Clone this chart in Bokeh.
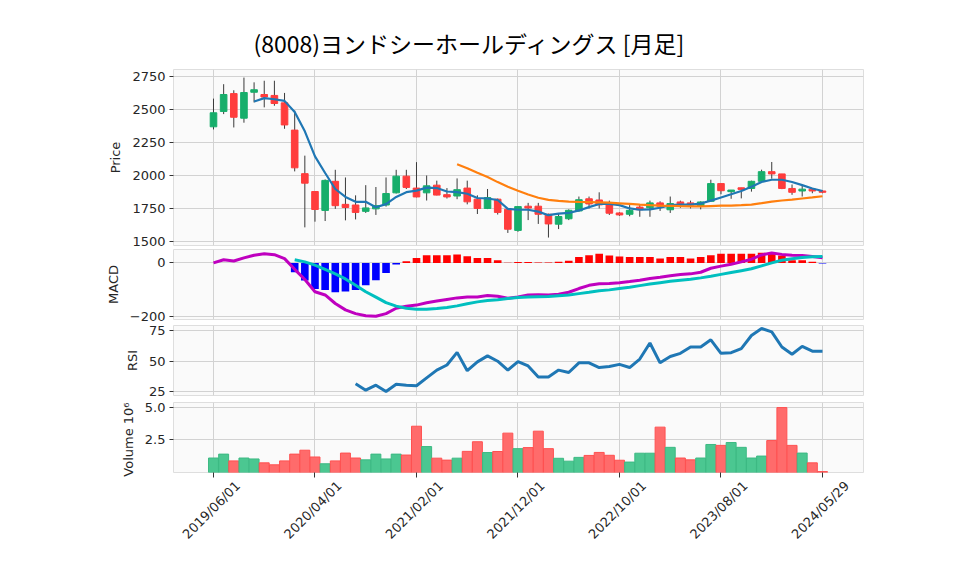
import math
from bokeh.plotting import figure
from bokeh.layouts import column
from bokeh.models import Range1d, FixedTicker, LinearAxis, ColumnDataSource, NumeralTickFormatter
from bokeh.embed import file_html
from bokeh.resources import INLINE

TITLE = "(8008)ヨンドシーホールディングス [月足]"

tick_idx = [0, 10, 20, 30, 40, 50, 60]
tick_labels = ["2019/06/01", "2020/04/01", "2021/02/01", "2021/12/01",
               "2022/10/01", "2023/08/01", "2024/05/29"]

opens = [2368, 2484, 2619, 2433, 2629, 2612, 2605, 2549, 2343, 2014,
         1879, 1736, 1956, 1782, 1777, 1729, 1748, 1777, 1869, 1995,
         1905, 1869, 1927, 1855, 1845, 1905, 1821, 1751, 1821, 1745,
         1585, 1768, 1768, 1707, 1632, 1673, 1732, 1824, 1815, 1780,
         1717, 1707, 1761, 1756, 1793, 1741, 1800, 1793, 1768, 1805,
         1939, 1878, 1907, 1902, 1956, 2029, 2012, 1902, 1883, 1897,
         1883]
highs = [2581, 2690, 2644, 2740, 2704, 2716, 2716, 2624, 2491, 2150,
         1881, 1970, 2043, 1985, 1850, 1927, 1913, 1985, 2043, 2043,
         2101, 2000, 1961, 1905, 1978, 1961, 1850, 1898, 1826, 1750,
         1768, 1793, 1793, 1712, 1712, 1744, 1841, 1841, 1873, 1810,
         1722, 1776, 1780, 1810, 1805, 1841, 1810, 1810, 1805, 1968,
         1939, 1890, 1907, 1961, 2044, 2102, 2012, 1932, 1932, 1902,
         1890]
lows = [2348, 2464, 2363, 2399, 2552, 2515, 2527, 2353, 2031, 1608,
        1651, 1656, 1748, 1661, 1668, 1717, 1702, 1765, 1864, 1898,
        1835, 1811, 1850, 1826, 1821, 1782, 1709, 1746, 1705, 1566,
        1575, 1663, 1634, 1531, 1595, 1663, 1727, 1751, 1751, 1702,
        1695, 1692, 1688, 1688, 1732, 1717, 1756, 1751, 1744, 1805,
        1858, 1824, 1827, 1878, 1951, 1976, 1897, 1854, 1841, 1866,
        1866]
closes = [2474, 2612, 2440, 2627, 2648, 2593, 2544, 2382, 2058, 1942,
          1743, 1963, 1772, 1758, 1721, 1755, 1772, 1864, 1995, 1910,
          1838, 1922, 1852, 1838, 1893, 1801, 1751, 1833, 1721, 1594,
          1765, 1754, 1707, 1634, 1690, 1737, 1817, 1785, 1778, 1715,
          1702, 1737, 1741, 1793, 1768, 1788, 1780, 1777, 1800, 1939,
          1885, 1890, 1895, 1956, 2029, 2012, 1902, 1873, 1897, 1883,
          1873]
# volume in millions of shares
volume_m = [1.11, 1.41, 0.89, 1.11, 1.04, 0.74, 0.59, 0.89, 1.41, 1.71,
            1.19, 0.67, 0.89, 1.49, 1.11, 0.97, 1.41, 1.04, 1.41, 1.34,
            3.55, 1.99, 1.10, 0.95, 1.10, 1.62, 2.36, 1.53, 1.61, 3.02,
            1.83, 1.91, 3.17, 1.83, 1.09, 0.87, 1.16, 1.31, 1.54, 1.32,
            0.94, 0.80, 1.48, 1.48, 3.48, 1.93, 1.11, 0.97, 1.11, 2.15,
            2.08, 2.30, 1.93, 1.11, 1.26, 2.45, 4.98, 2.08, 1.49, 0.74,
            0.07]
# moving averages (first value at index 4 and 24)
ma5 = [2559, 2585, 2576, 2564, 2479, 2334, 2145, 2019, 1898, 1838,
       1801, 1801, 1760, 1784, 1838, 1874, 1886, 1908, 1905, 1879,
       1874, 1862, 1830, 1826, 1815, 1748, 1741, 1741, 1727, 1700,
       1712, 1717, 1736, 1761, 1785, 1785, 1776, 1751, 1741, 1744,
       1756, 1776, 1780, 1780, 1788, 1810, 1834, 1858, 1883, 1915,
       1951, 1968, 1968, 1951, 1927, 1902, 1883]
ma25 = [2085, 2055, 2020, 1988, 1950, 1915, 1885, 1856, 1832, 1816,
        1808, 1803, 1800, 1799, 1797, 1795, 1790, 1785, 1780, 1776,
        1773, 1771, 1768, 1766, 1766, 1769, 1772, 1773, 1776, 1780,
        1791, 1803, 1811, 1818, 1826, 1834, 1843]
macd = [0, 12, 7, 19, 29, 34, 31, 16, -24, -62,
        -108, -120, -152, -176, -190, -198, -200, -190, -170, -162,
        -158, -149, -143, -137, -131, -128, -128, -122, -125, -132,
        -128, -120, -119, -120, -117, -110, -96, -84, -78, -77,
        -74, -70, -65, -58, -54, -48, -43, -41, -35, -20,
        -12, -5, 4, 14, 30, 37, 32, 29, 28, 24,
        19]
# signal and histogram start at index 8
signal = [12, 4, -8, -24, -41, -60, -84, -108, -128, -149,
          -162, -170, -174, -174, -171, -167, -161, -153, -146, -141,
          -138, -133, -130, -128, -127, -126, -123, -120, -115, -110,
          -104, -101, -96, -91, -85, -79, -74, -69, -65, -61,
          -56, -50, -43, -36, -29, -22, -11, 0, 10, 16,
          20, 23, 24]
hist = [-35, -66, -98, -101, -110, -107, -101, -84, -65, -38,
        -6, 6, 18, 29, 29, 29, 32, 25, 18, 18,
        10, 1, 3, 3, 2, 2, 4, 8, 22, 29,
        34, 28, 24, 22, 22, 22, 17, 22, 22, 17,
        22, 29, 34, 34, 34, 34, 38, 36, 28, 10,
        10, 4, -2]
# RSI starts at index 14
rsi = [31.4, 26.2, 30.3, 25.1, 31.1, 30.3, 29.8, 36.3, 42.7, 46.9,
       57.3, 42.2, 49.5, 54.4, 50.0, 42.7, 49.7, 46.1, 37.1, 37.1,
       42.7, 40.7, 48.7, 48.7, 44.8, 45.6, 47.4, 44.8, 51.8, 65.0,
       48.7, 53.9, 56.5, 61.7, 61.7, 67.6, 56.5, 57.0, 60.4, 71.2,
       76.9, 74.1, 61.7, 55.7, 62.2, 58.3, 58.3]

# ---------------------------------------------------------------- styling
UP = "#17ae6b"
DOWN = "#ff3c3c"
VUP_FILL, VUP_LINE = "#4bc791", "#3cb983"
VDN_FILL, VDN_LINE = "#ff6b6b", "#ff5050"
GRID = "#d2d2d2"
BG = "#fafafa"
FONT = "DejaVu Sans"
TXT = "#262626"

n = len(closes)
idx = list(range(n))
X0, X1 = -3.94, 64.04
xr = Range1d(X0, X1)
LB, FW, RB = 173, 690, 87
W = LB + FW + RB


def style_y(ax, label):
    ax.axis_line_color = None
    ax.major_tick_line_color = "#333333"
    ax.major_tick_out = 4
    ax.major_tick_in = 0
    ax.minor_tick_line_color = None
    ax.major_label_text_font = FONT
    ax.major_label_text_font_size = "13px"
    ax.major_label_text_color = TXT
    ax.major_label_standoff = 4
    ax.axis_label = label
    ax.axis_label_text_font = FONT
    ax.axis_label_text_font_size = "13px"
    ax.axis_label_text_font_style = "normal"
    ax.axis_label_text_color = TXT
    ax.axis_label_standoff = 6


def make_fig(frame_h, yr, yticks, label, top=0, bottom=0, xaxis=False):
    p = figure(width=W, height=frame_h + top + bottom, x_range=xr, y_range=yr,
               output_backend="svg", toolbar_location=None,
               x_axis_location="below" if xaxis else None,
               min_border_left=LB, min_border_right=RB,
               min_border_top=top, min_border_bottom=bottom)
    p.background_fill_color = BG
    p.border_fill_color = "white"
    p.outline_line_color = "#dedede"
    p.xgrid.ticker = FixedTicker(ticks=tick_idx)
    p.xgrid.grid_line_color = GRID
    p.ygrid.grid_line_color = GRID
    ax = p.yaxis[0]
    ax.ticker = FixedTicker(ticks=yticks)
    style_y(ax, label)
    return p


# ---------------------------------------------------------------- price
p1 = make_fig(176, Range1d(1471, 2801), [1500, 1750, 2000, 2250, 2500, 2750],
              "Price", top=69, bottom=4)
p1.title.text = TITLE
p1.title.text_font = "Noto Sans CJK JP"
p1.title.text_font_size = "23px"
p1.title.text_font_style = "normal"
p1.title.text_color = "#000000"
p1.title.align = "left"
p1.title.offset = 80
p1.title.standoff = 19

up_i = [i for i in idx if closes[i] >= opens[i]]
dn_i = [i for i in idx if closes[i] < opens[i]]
p1.segment(x0=idx, y0=lows, x1=idx, y1=highs, line_color="#3a3a3a", line_width=1)
for sel, col in ((up_i, UP), (dn_i, DOWN)):
    src = ColumnDataSource(dict(
        x=sel,
        top=[max(opens[i], closes[i]) for i in sel],
        bottom=[min(opens[i], closes[i]) for i in sel]))
    p1.vbar(x="x", top="top", bottom="bottom", width=0.65, source=src,
            fill_color=col, line_color=col, line_width=1)
p1.line(x=idx[n - len(ma5):], y=ma5, line_color="#1f77b4", line_width=2.2)
p1.line(x=idx[n - len(ma25):], y=ma25, line_color="#ff7f0e", line_width=2.2)

# ---------------------------------------------------------------- MACD
p2 = make_fig(70, Range1d(-212, 50.3), [-200, 0], "MACD", top=0, bottom=4)
p2.yaxis[0].major_label_overrides = {-200: "\u2212200"}
hx = idx[n - len(hist):]
p2.vbar(x=hx, top=hist, bottom=0, width=0.75, line_color=None,
        fill_color=["#ff0000" if v >= 0 else "#0000ff" for v in hist])
p2.line(x=idx, y=macd, line_color="#bf00bf", line_width=3)
p2.line(x=idx[n - len(signal):], y=signal, line_color="#00bfbf", line_width=3)

# ---------------------------------------------------------------- RSI
p3 = make_fig(70, Range1d(21.8, 79.4), [25, 50, 75], "RSI", top=2, bottom=4)
p3.line(x=idx[n - len(rsi):], y=rsi, line_color="#1f77b4", line_width=3)

# ---------------------------------------------------------------- Volume
BOT = 82
p4 = make_fig(70, Range1d(0, 5.37), [2.5, 5.0], "Volume  10\u2076",
              top=3, bottom=BOT, xaxis=True)
p4.yaxis[0].formatter = NumeralTickFormatter(format="0.0")

vup = [i == 0 and closes[i] >= opens[i] or i > 0 and closes[i] >= closes[i - 1] for i in idx]
p4.vbar(x=idx, top=volume_m, bottom=0, width=0.98,
        fill_color=[VUP_FILL if u else VDN_FILL for u in vup],
        line_color=[VUP_LINE if u else VDN_LINE for u in vup], line_width=1)

ax = p4.xaxis[0]
ax.ticker = FixedTicker(ticks=tick_idx)
ax.axis_line_color = None
ax.major_tick_line_color = "#333333"
ax.major_tick_out = 5
ax.major_tick_in = 0
ax.minor_tick_line_color = None
ax.major_label_overrides = {t: "" for t in tick_idx}
ax.major_label_text_font_size = "0px"
ax.major_label_standoff = 0

SHIFT = 2.4
p4.extra_x_ranges = {"lab": Range1d(X0 - SHIFT, X1 - SHIFT)}
lab = LinearAxis(x_range_name="lab", ticker=FixedTicker(ticks=tick_idx),
                 major_label_overrides={t: s for t, s in zip(tick_idx, tick_labels)},
                 major_label_orientation=math.pi / 4,
                 axis_line_color=None, major_tick_line_color=None,
                 minor_tick_line_color=None, major_label_standoff=0,
                 major_label_text_font=FONT, major_label_text_font_size="13px",
                 major_label_text_color=TXT)
p4.add_layout(lab, "below")

layout = column(p1, p2, p3, p4, spacing=0)
open("out.html", "w").write(file_html(layout, INLINE))
